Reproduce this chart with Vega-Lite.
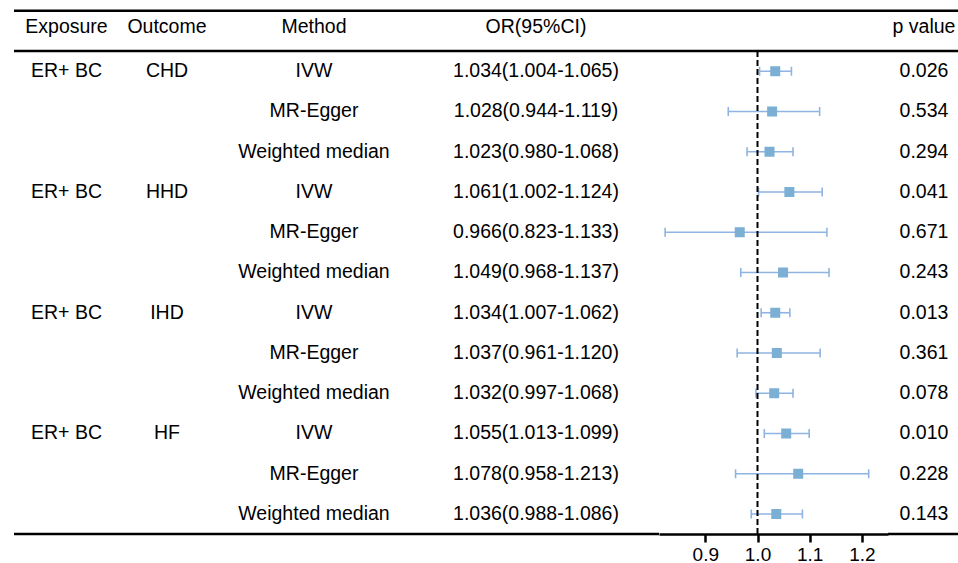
{
  "$schema": "https://vega.github.io/schema/vega-lite/v6.json",
  "padding": {"left": 12, "top": 0, "right": 0, "bottom": 0},
  "spacing": 0,
  "bounds": "flush",
  "config": {"view": {"stroke": null}, "font": "Liberation Sans", "concat": {"spacing": 0}},
  "datasets": {
    "rows": [
      {"row": 1, "exposure": "ER+ BC", "outcome": "CHD", "method": "IVW", "or": 1.034, "lo": 1.004, "hi": 1.065, "ci": "1.034(1.004-1.065)", "p": "0.026"},
      {"row": 2, "exposure": "", "outcome": "", "method": "MR-Egger", "or": 1.028, "lo": 0.944, "hi": 1.119, "ci": "1.028(0.944-1.119)", "p": "0.534"},
      {"row": 3, "exposure": "", "outcome": "", "method": "Weighted median", "or": 1.023, "lo": 0.980, "hi": 1.068, "ci": "1.023(0.980-1.068)", "p": "0.294"},
      {"row": 4, "exposure": "ER+ BC", "outcome": "HHD", "method": "IVW", "or": 1.061, "lo": 1.002, "hi": 1.124, "ci": "1.061(1.002-1.124)", "p": "0.041"},
      {"row": 5, "exposure": "", "outcome": "", "method": "MR-Egger", "or": 0.966, "lo": 0.823, "hi": 1.133, "ci": "0.966(0.823-1.133)", "p": "0.671"},
      {"row": 6, "exposure": "", "outcome": "", "method": "Weighted median", "or": 1.049, "lo": 0.968, "hi": 1.137, "ci": "1.049(0.968-1.137)", "p": "0.243"},
      {"row": 7, "exposure": "ER+ BC", "outcome": "IHD", "method": "IVW", "or": 1.034, "lo": 1.007, "hi": 1.062, "ci": "1.034(1.007-1.062)", "p": "0.013"},
      {"row": 8, "exposure": "", "outcome": "", "method": "MR-Egger", "or": 1.037, "lo": 0.961, "hi": 1.120, "ci": "1.037(0.961-1.120)", "p": "0.361"},
      {"row": 9, "exposure": "", "outcome": "", "method": "Weighted median", "or": 1.032, "lo": 0.997, "hi": 1.068, "ci": "1.032(0.997-1.068)", "p": "0.078"},
      {"row": 10, "exposure": "ER+ BC", "outcome": "HF", "method": "IVW", "or": 1.055, "lo": 1.013, "hi": 1.099, "ci": "1.055(1.013-1.099)", "p": "0.010"},
      {"row": 11, "exposure": "", "outcome": "", "method": "MR-Egger", "or": 1.078, "lo": 0.958, "hi": 1.213, "ci": "1.078(0.958-1.213)", "p": "0.228"},
      {"row": 12, "exposure": "", "outcome": "", "method": "Weighted median", "or": 1.036, "lo": 0.988, "hi": 1.086, "ci": "1.036(0.988-1.086)", "p": "0.143"}
    ]
  },
  "hconcat": [
    {
      "width": 105, "height": 534,
      "layer": [
        {"data": {"values": [{}]}, "mark": {"type": "rule", "strokeWidth": 2.5, "color": "black"}, "encoding": {"y": {"datum": -0.5, "type": "quantitative", "scale": {"domain": [-0.77, 12.497], "reverse": true, "nice": false, "zero": false}, "axis": null}}},
        {"data": {"values": [{}]}, "mark": {"type": "rule", "strokeWidth": 2.5, "color": "black"}, "encoding": {"y": {"datum": 0.5, "type": "quantitative"}}},
        {"data": {"values": [{}]}, "mark": {"type": "rule", "strokeWidth": 2.5, "color": "black"}, "encoding": {"y": {"datum": 12.497, "type": "quantitative"}}},
        {"data": {"values": [{}]}, "mark": {"type": "text", "text": "Exposure", "fontSize": 19.5, "dy": -4, "color": "black"}, "encoding": {"y": {"datum": 0, "type": "quantitative"}}},
        {"data": {"name": "rows"}, "mark": {"type": "text", "fontSize": 19.5, "color": "black"}, "encoding": {"y": {"field": "row", "type": "quantitative"}, "text": {"field": "exposure"}}}
      ]
    },
    {
      "width": 96, "height": 534,
      "layer": [
        {"data": {"values": [{}]}, "mark": {"type": "rule", "strokeWidth": 2.5, "color": "black"}, "encoding": {"y": {"datum": -0.5, "type": "quantitative", "scale": {"domain": [-0.77, 12.497], "reverse": true, "nice": false, "zero": false}, "axis": null}}},
        {"data": {"values": [{}]}, "mark": {"type": "rule", "strokeWidth": 2.5, "color": "black"}, "encoding": {"y": {"datum": 0.5, "type": "quantitative"}}},
        {"data": {"values": [{}]}, "mark": {"type": "rule", "strokeWidth": 2.5, "color": "black"}, "encoding": {"y": {"datum": 12.497, "type": "quantitative"}}},
        {"data": {"values": [{}]}, "mark": {"type": "text", "text": "Outcome", "fontSize": 19.5, "dy": -4, "color": "black"}, "encoding": {"y": {"datum": 0, "type": "quantitative"}}},
        {"data": {"name": "rows"}, "mark": {"type": "text", "fontSize": 19.5, "color": "black"}, "encoding": {"y": {"field": "row", "type": "quantitative"}, "text": {"field": "outcome"}}}
      ]
    },
    {
      "width": 198, "height": 534,
      "layer": [
        {"data": {"values": [{}]}, "mark": {"type": "rule", "strokeWidth": 2.5, "color": "black"}, "encoding": {"y": {"datum": -0.5, "type": "quantitative", "scale": {"domain": [-0.77, 12.497], "reverse": true, "nice": false, "zero": false}, "axis": null}}},
        {"data": {"values": [{}]}, "mark": {"type": "rule", "strokeWidth": 2.5, "color": "black"}, "encoding": {"y": {"datum": 0.5, "type": "quantitative"}}},
        {"data": {"values": [{}]}, "mark": {"type": "rule", "strokeWidth": 2.5, "color": "black"}, "encoding": {"y": {"datum": 12.497, "type": "quantitative"}}},
        {"data": {"values": [{}]}, "mark": {"type": "text", "text": "Method", "fontSize": 19.5, "dy": -4, "color": "black"}, "encoding": {"y": {"datum": 0, "type": "quantitative"}}},
        {"data": {"name": "rows"}, "mark": {"type": "text", "fontSize": 19.5, "color": "black"}, "encoding": {"y": {"field": "row", "type": "quantitative"}, "text": {"field": "method"}}}
      ]
    },
    {
      "width": 246, "height": 534,
      "layer": [
        {"data": {"values": [{}]}, "mark": {"type": "rule", "strokeWidth": 2.5, "color": "black"}, "encoding": {"y": {"datum": -0.5, "type": "quantitative", "scale": {"domain": [-0.77, 12.497], "reverse": true, "nice": false, "zero": false}, "axis": null}}},
        {"data": {"values": [{}]}, "mark": {"type": "rule", "strokeWidth": 2.5, "color": "black"}, "encoding": {"y": {"datum": 0.5, "type": "quantitative"}}},
        {"data": {"values": [{}]}, "mark": {"type": "rule", "strokeWidth": 2.5, "color": "black"}, "encoding": {"y": {"datum": 12.497, "type": "quantitative"}}},
        {"data": {"values": [{}]}, "mark": {"type": "text", "text": "OR(95%CI)", "fontSize": 19.5, "dy": -4, "color": "black"}, "encoding": {"y": {"datum": 0, "type": "quantitative"}}},
        {"data": {"name": "rows"}, "mark": {"type": "text", "fontSize": 19.5, "color": "black"}, "encoding": {"y": {"field": "row", "type": "quantitative"}, "text": {"field": "ci"}}}
      ]
    },
    {
      "width": 229, "height": 534,
      "layer": [
        {"data": {"values": [{}]}, "mark": {"type": "rule", "strokeWidth": 2.5, "color": "black"}, "encoding": {"y": {"datum": -0.5, "type": "quantitative", "scale": {"domain": [-0.77, 12.497], "reverse": true, "nice": false, "zero": false}, "axis": null}}},
        {"data": {"values": [{}]}, "mark": {"type": "rule", "strokeWidth": 2.5, "color": "black"}, "encoding": {"y": {"datum": 0.5, "type": "quantitative"}}},
        {"data": {"name": "rows"}, "mark": {"type": "rule", "strokeWidth": 1.6, "color": "#8EB4E3"}, "encoding": {
          "x": {"field": "lo", "type": "quantitative", "scale": {"domain": [0.8113, 1.25], "nice": false, "zero": false},
            "axis": {"values": [0.9, 1.0, 1.1, 1.2], "format": ".1f", "title": null, "grid": false, "labelFontSize": 19, "labelFont": "Liberation Sans", "labelColor": "black", "tickSize": 8, "tickWidth": 2.5, "tickColor": "black", "domainColor": "black", "domainWidth": 2.5, "labelPadding": 3}},
          "x2": {"field": "hi"},
          "y": {"field": "row", "type": "quantitative"}}},
        {"data": {"name": "rows"}, "mark": {"type": "tick", "orient": "vertical", "size": 9, "thickness": 1.6, "color": "#8EB4E3", "opacity": 1}, "encoding": {"x": {"field": "lo", "type": "quantitative"}, "y": {"field": "row", "type": "quantitative"}}},
        {"data": {"name": "rows"}, "mark": {"type": "tick", "orient": "vertical", "size": 9, "thickness": 1.6, "color": "#8EB4E3", "opacity": 1}, "encoding": {"x": {"field": "hi", "type": "quantitative"}, "y": {"field": "row", "type": "quantitative"}}},
        {"data": {"values": [{}]}, "mark": {"type": "rule", "strokeWidth": 2, "color": "black", "strokeDash": [6, 3]}, "encoding": {"x": {"datum": 1, "type": "quantitative"}, "y": {"datum": 0.5, "type": "quantitative"}, "y2": {"datum": 12.497}}},
        {"data": {"name": "rows"}, "mark": {"type": "square", "size": 100, "color": "#7BAFD4", "opacity": 1}, "encoding": {"x": {"field": "or", "type": "quantitative"}, "y": {"field": "row", "type": "quantitative"}}}
      ]
    },
    {
      "width": 72, "height": 534,
      "layer": [
        {"data": {"values": [{}]}, "mark": {"type": "rule", "strokeWidth": 2.5, "color": "black"}, "encoding": {"y": {"datum": -0.5, "type": "quantitative", "scale": {"domain": [-0.77, 12.497], "reverse": true, "nice": false, "zero": false}, "axis": null}}},
        {"data": {"values": [{}]}, "mark": {"type": "rule", "strokeWidth": 2.5, "color": "black"}, "encoding": {"y": {"datum": 0.5, "type": "quantitative"}}},
        {"data": {"values": [{}]}, "mark": {"type": "rule", "strokeWidth": 2.5, "color": "black"}, "encoding": {"y": {"datum": 12.497, "type": "quantitative"}}},
        {"data": {"values": [{}]}, "mark": {"type": "text", "text": "p value", "fontSize": 19.5, "dy": -4, "color": "black"}, "encoding": {"y": {"datum": 0, "type": "quantitative"}}},
        {"data": {"name": "rows"}, "mark": {"type": "text", "fontSize": 19.5, "color": "black"}, "encoding": {"y": {"field": "row", "type": "quantitative"}, "text": {"field": "p"}}}
      ]
    }
  ]
}
